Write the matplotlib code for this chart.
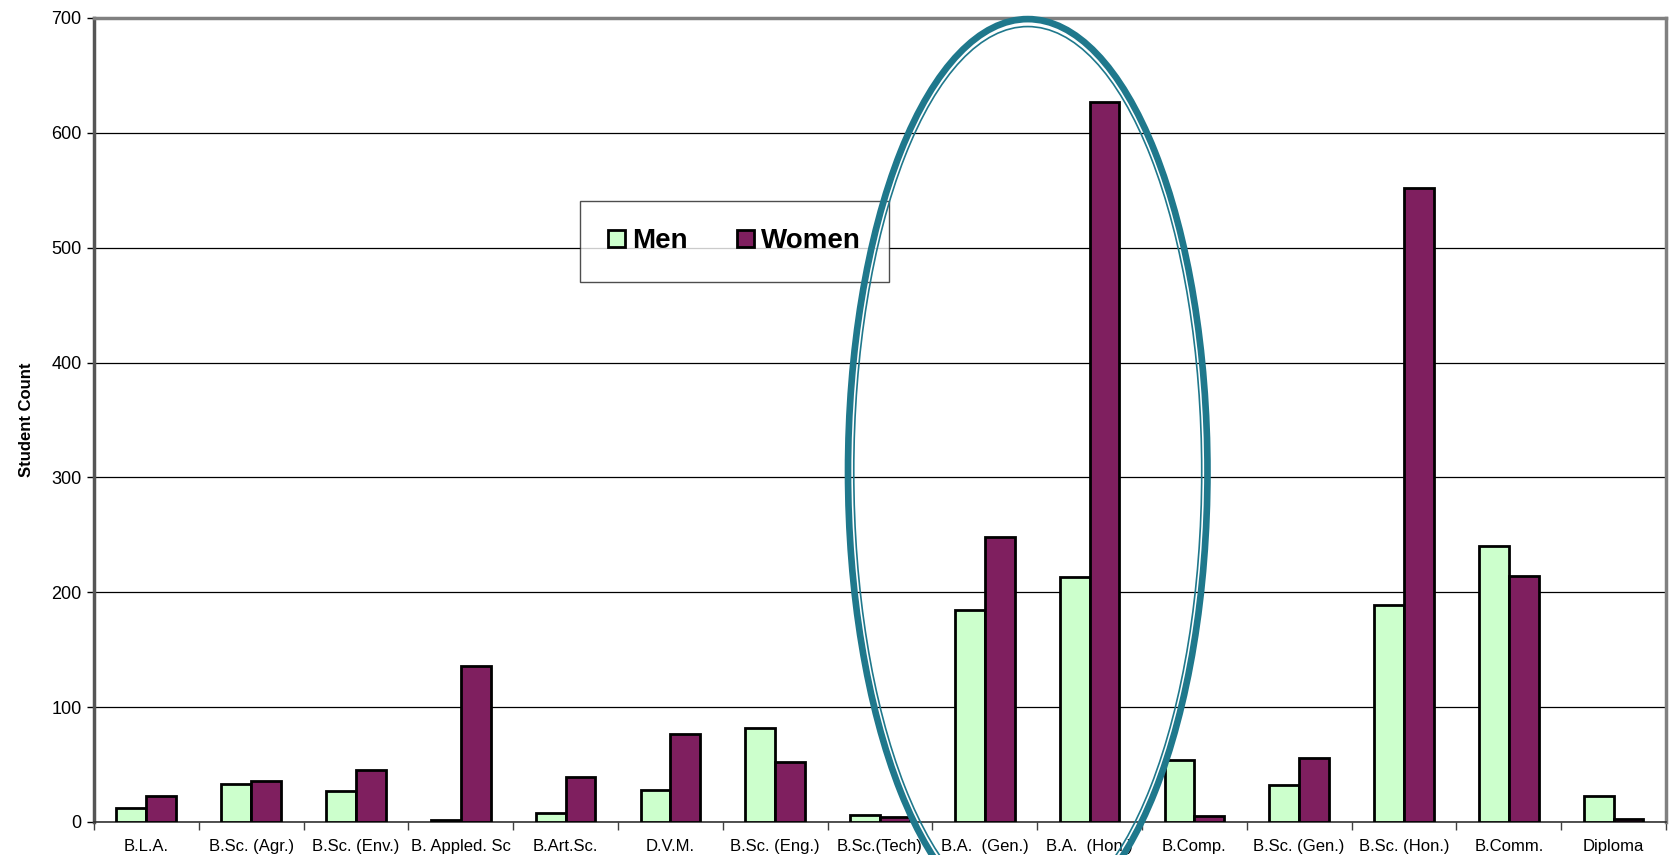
import numpy as np
import matplotlib.pyplot as plt
from matplotlib.patches import Ellipse

plt.rcParams['font.family'] = ['Liberation Sans', 'DejaVu Sans']

programs = ['B.L.A.', 'B.Sc. (Agr.)', 'B.Sc. (Env.)', 'B. Appled. Sc', 'B.Art.Sc.',
            'D.V.M.', 'B.Sc. (Eng.)', 'B.Sc.(Tech)', 'B.A.  (Gen.)', 'B.A.  (Hon.)',
            'B.Comp.', 'B.Sc. (Gen.)', 'B.Sc. (Hon.)', 'B.Comm.', 'Diploma']
men = [12, 33, 27, 2, 8, 28, 82, 6, 185, 213, 54, 32, 189, 240, 23]
women = [23, 36, 45, 136, 39, 77, 52, 4, 248, 627, 5, 56, 552, 214, 3]

men_color = '#CCFFCC'
women_color = '#7F1F5F'
ring_color = '#1F788C'

fig = plt.figure(figsize=(16.72, 8.55), dpi=100)
ax = fig.add_axes([0.0562, 0.0386, 0.9402, 0.9404])

x = np.arange(len(programs))
w = 0.285
ax.bar(x - w / 2, men, w, color=men_color, edgecolor='black', linewidth=2, label='Men', zorder=3)
ax.bar(x + w / 2, women, w, color=women_color, edgecolor='black', linewidth=2, label='Women', zorder=3)

ax.set_xlim(-0.5, len(programs) - 0.5)
ax.set_ylim(0, 700)
ax.set_yticks(range(0, 701, 100))
ax.yaxis.grid(True, color='black', linewidth=0.9, zorder=0)

ax.set_xticks(x)
ax.set_xticklabels(programs, fontsize=12)
ax.set_xticks(np.arange(-0.5, len(programs)), minor=True)
ax.tick_params(axis='x', which='major', length=0, pad=12)
ax.tick_params(axis='x', which='minor', length=6, width=1, color='#404040')
ax.tick_params(axis='y', length=5, width=1, labelsize=13, pad=4)

for side in ['top', 'right']:
    ax.spines[side].set_color('#808080')
    ax.spines[side].set_linewidth(2.5)
ax.spines['left'].set_color('#555555')
ax.spines['left'].set_linewidth(2.5)
ax.spines['bottom'].set_color('#333333')
ax.spines['bottom'].set_linewidth(1.2)

ax.set_ylabel('Student Count', fontsize=12, fontweight='bold', labelpad=12)

leg = ax.legend(loc='upper left', bbox_to_anchor=(0.3005, 0.79), ncol=2, frameon=True,
                fancybox=False, edgecolor='#222222', prop={'size': 20, 'weight': 'bold'},
                handlelength=0.6, handleheight=0.6, handletextpad=0.25, columnspacing=1.8,
                borderpad=1.0)
leg.get_frame().set_linewidth(1.0)
leg.set_zorder(4)

# double ring drawn round the B.A. columns
cx, cy = 8.41, 305
ax.add_patch(Ellipse((cx, cy), 3.43, 788, fill=False, edgecolor=ring_color,
                     linewidth=4.8, clip_on=False, zorder=5))
ax.add_patch(Ellipse((cx, cy), 3.32, 775, fill=False, edgecolor=ring_color,
                     linewidth=1.2, clip_on=False, zorder=5))

fig.savefig('out.png', dpi=100)
